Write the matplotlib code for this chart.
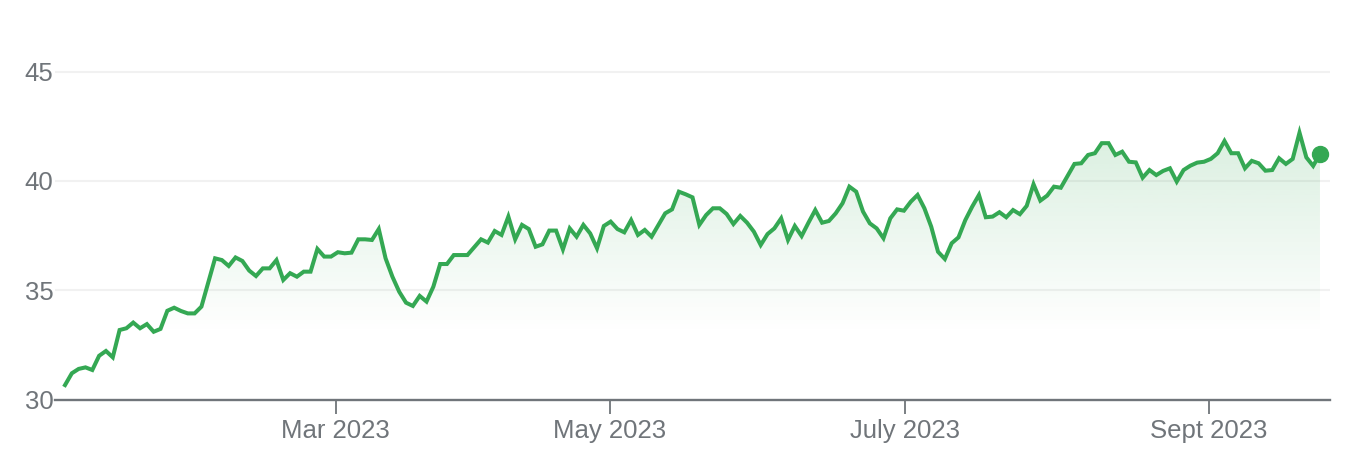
import matplotlib
matplotlib.use("Agg")
import matplotlib.pyplot as plt
import numpy as np
from matplotlib.patches import Polygon

# ---- data (daily closing values) ----
prices = [
    30.66, 31.20, 31.40, 31.47, 31.35, 32.00, 32.22, 31.93, 33.18, 33.26,
    33.52, 33.26, 33.45, 33.10, 33.23, 34.06, 34.20, 34.05, 33.94, 33.94,
    34.25, 35.35, 36.46, 36.38, 36.11, 36.50, 36.34, 35.90, 35.65, 36.00,
    36.00, 36.38, 35.47, 35.78, 35.62, 35.85, 35.85, 36.89, 36.54, 36.54,
    36.74, 36.69, 36.72, 37.33, 37.33, 37.30, 37.80, 36.46, 35.62, 34.93,
    34.43, 34.28, 34.74, 34.48, 35.16, 36.20, 36.20, 36.61, 36.61, 36.61,
    36.97, 37.33, 37.18, 37.71, 37.53, 38.37, 37.33, 37.99, 37.80, 36.99,
    37.10, 37.73, 37.73, 36.87, 37.83, 37.45, 37.99, 37.60, 36.92, 37.94,
    38.14, 37.80, 37.65, 38.21, 37.53, 37.76, 37.45, 37.99, 38.52, 38.70,
    39.51, 39.39, 39.25, 37.99, 38.44, 38.75, 38.75, 38.49, 38.03, 38.40,
    38.09, 37.68, 37.07, 37.57, 37.83, 38.29, 37.30, 37.94, 37.48, 38.09,
    38.67, 38.09, 38.17, 38.52, 38.98, 39.74, 39.51, 38.60, 38.06, 37.83,
    37.38, 38.29, 38.70, 38.64, 39.05, 39.36, 38.75, 37.91, 36.76, 36.43,
    37.15, 37.42, 38.21, 38.82, 39.36, 38.34, 38.37, 38.57, 38.34, 38.67,
    38.48, 38.86, 39.85, 39.10, 39.33, 39.74, 39.69, 40.23, 40.78, 40.81,
    41.19, 41.27, 41.73, 41.73, 41.19, 41.34, 40.88, 40.85, 40.15, 40.50,
    40.27, 40.46, 40.58, 39.97, 40.50, 40.70, 40.84, 40.88, 41.01, 41.27,
    41.83, 41.27, 41.27, 40.58, 40.92, 40.81, 40.47, 40.50, 41.04, 40.78,
    41.01, 42.21, 41.08, 40.69, 41.24,
]
x_tick_labels = ["Mar 2023", "May 2023", "July 2023", "Sept 2023"]
x_tick_pos = [39.7, 79.9, 123.2, 167.7]   # trading-day index of month starts
y_ticks = [30, 35, 40, 45]

# ---- style ----
GREEN = "#34a853"
GREY = "#70757a"
GRID = "#f1f1f1"

W, H = 1352, 470
fig = plt.figure(figsize=(W / 100, H / 100), dpi=100)
left_px, right_px = 55, 1330
bottom_px, top_px = 399.5, 28
ax = fig.add_axes([left_px / W, 1 - bottom_px / H,
                   (right_px - left_px) / W, (bottom_px - top_px) / H])

x = np.arange(len(prices))
y = np.array(prices)

ax.set_xlim(-1.47, len(prices) - 1 + 1.47)
ax.set_ylim(30, 47)

# gradient fill under the line
y0, y1 = 30, 42.6
grad = np.linspace(0, 1, 256).reshape(-1, 1)
vals = y0 + grad * (y1 - y0)
alpha = np.clip((vals - 33.0) / (42.6 - 33.0), 0, 1) * 0.19
rgba = np.zeros((256, 1, 4))
rgba[..., 0], rgba[..., 1], rgba[..., 2] = matplotlib.colors.to_rgb(GREEN)
rgba[..., 3] = alpha
img = ax.imshow(rgba, extent=[x[0], x[-1], y0, y1], origin="lower",
                aspect="auto", zorder=1, interpolation="bilinear")
verts = np.column_stack([np.r_[x, x[-1], x[0]], np.r_[y, 30, 30]])
poly = Polygon(verts, closed=True, facecolor="none", edgecolor="none")
ax.add_patch(poly)
img.set_clip_path(poly)

# grid lines
for t in y_ticks[1:]:
    ax.axhline(t, color=GRID, lw=1.5, zorder=0)

ax.plot(x, y, color=GREEN, lw=2.9, zorder=3, solid_joinstyle="miter")
ax.plot([x[-1]], [y[-1]], "o", color=GREEN, ms=11.5, zorder=4)

# axes styling
for s in ["top", "right", "left"]:
    ax.spines[s].set_visible(False)
ax.spines["bottom"].set_color(GREY)
ax.spines["bottom"].set_linewidth(1.7)
ax.spines["bottom"].set_zorder(5)

ax.set_yticks(y_ticks)
ax.set_yticklabels([str(t) for t in y_ticks])
ax.tick_params(axis="y", length=0, pad=1, labelsize=18.5, labelcolor=GREY)

ax.set_xticks(x_tick_pos)
ax.set_xticklabels(x_tick_labels)
ax.tick_params(axis="x", length=10, width=1.3, color=GREY, pad=4,
               labelsize=18.5, labelcolor=GREY)
for lab in ax.get_xticklabels() + ax.get_yticklabels():
    lab.set_fontfamily("Liberation Sans")

fig.savefig("out.png", dpi=100, facecolor="white")
